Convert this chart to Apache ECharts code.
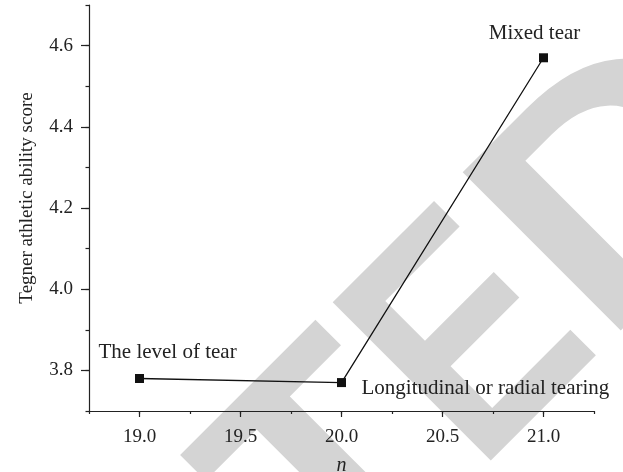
<!DOCTYPE html>
<html><head><meta charset="utf-8">
<script src="https://cdn.jsdelivr.net/npm/echarts@6/dist/echarts.min.js"></script>
<style>html,body{margin:0;padding:0;background:#fff}#c{width:623px;height:472px}</style>
</head><body><div id="c"></div>
<script>
// ---- data ----
const nValues = [19.0, 20.0, 21.0];
const scores = [3.78, 3.77, 4.57];
const pointNames = ['The level of tear', 'Longitudinal or radial tearing', 'Mixed tear'];
const xMajorTicks = [19.0, 19.5, 20.0, 20.5, 21.0];
const yMajorTicks = [3.8, 4.0, 4.2, 4.4, 4.6];
const xTitle = 'n';
const yTitle = 'Tegner athletic ability score';
const watermarkParts = ['RETRACT', 'E', 'D'];

// ---- styling / layout ----
const serif = '"Liberation Serif", "DejaVu Serif", serif';
const ink = '#222';
const labelLayout = [
  { position: [-36.5, -22], align: 'left' },
  { position: [24.5, 10], align: 'left' },
  { position: [-4.5, -19.5], align: 'center' }
];
const axisLineStyle = { color: ink, width: 1.2 };

// watermark placement (rotated 45deg, big light-grey letters behind the plot)
const wmFont = 'bold 325px "Liberation Sans", Arial, sans-serif';
const wmLayout = [
  { x: 412.6, y: 411.9, align: 'right', scaleX: 1 },
  { x: 414.9, y: 409.6, align: 'left', scaleX: 0.815 },
  { x: 540.2, y: 284.3, align: 'left', scaleX: 1.12 }
];

const chart = echarts.init(document.getElementById('c'), null, { renderer: 'canvas' });
chart.setOption({
  animation: false,
  backgroundColor: '#fff',
  grid: { left: 89, right: 29, top: 5, bottom: 61, containLabel: false, outerBoundsMode: 'none' },
  graphic: watermarkParts.map((t, i) => ({
    type: 'text', x: wmLayout[i].x, y: wmLayout[i].y, rotation: Math.PI / 4,
    scaleX: wmLayout[i].scaleX, scaleY: 1, z: -100, silent: true,
    style: { text: t, font: wmFont, fill: '#d4d4d4', align: wmLayout[i].align, verticalAlign: 'middle' }
  })),
  xAxis: [{
    type: 'value', min: 18.75, max: 21.25, interval: 0.25,
    axisLine: { show: true, lineStyle: axisLineStyle },
    axisTick: { show: true, length: 3, lineStyle: axisLineStyle },
    axisLabel: { show: false }, splitLine: { show: false },
    name: xTitle, nameLocation: 'middle', nameGap: 45,
    nameTextStyle: { fontFamily: serif, fontStyle: 'italic', fontSize: 20, color: ink }
  }, {
    type: 'value', position: 'bottom', min: 18.75, max: 21.25,
    axisLine: { show: false },
    axisTick: { show: true, length: 6, customValues: xMajorTicks, lineStyle: axisLineStyle },
    axisLabel: { show: true, customValues: xMajorTicks, margin: 17, formatter: v => v.toFixed(1),
      fontFamily: serif, fontSize: 19, color: ink },
    splitLine: { show: false }
  }],
  yAxis: [{
    type: 'value', min: 3.7, max: 4.7, interval: 0.1,
    axisLine: { show: true, lineStyle: axisLineStyle },
    axisTick: { show: true, length: 3.5, lineStyle: axisLineStyle },
    axisLabel: { show: false }, splitLine: { show: false },
    name: yTitle, nameLocation: 'middle', nameGap: 52,
    nameTextStyle: { fontFamily: serif, fontSize: 19, color: ink, padding: [0, 0, 0, 20] }
  }, {
    type: 'value', position: 'left', min: 3.7, max: 4.7,
    axisLine: { show: false },
    axisTick: { show: true, length: 8, customValues: yMajorTicks, lineStyle: axisLineStyle },
    axisLabel: { show: true, customValues: yMajorTicks, margin: 16, formatter: v => v.toFixed(1),
      fontFamily: serif, fontSize: 19, color: ink },
    splitLine: { show: false }
  }],
  series: [{
    type: 'line', xAxisIndex: 0, yAxisIndex: 0,
    symbol: 'rect', symbolSize: 9,
    itemStyle: { color: '#111' },
    lineStyle: { color: '#111', width: 1.3 },
    data: nValues.map((x, i) => ({
      value: [x, scores[i]], name: pointNames[i],
      label: { show: true, formatter: '{b}', position: labelLayout[i].position,
        align: labelLayout[i].align, verticalAlign: 'middle',
        fontFamily: serif, fontSize: 21, color: ink }
    }))
  }]
});
</script></body></html>
